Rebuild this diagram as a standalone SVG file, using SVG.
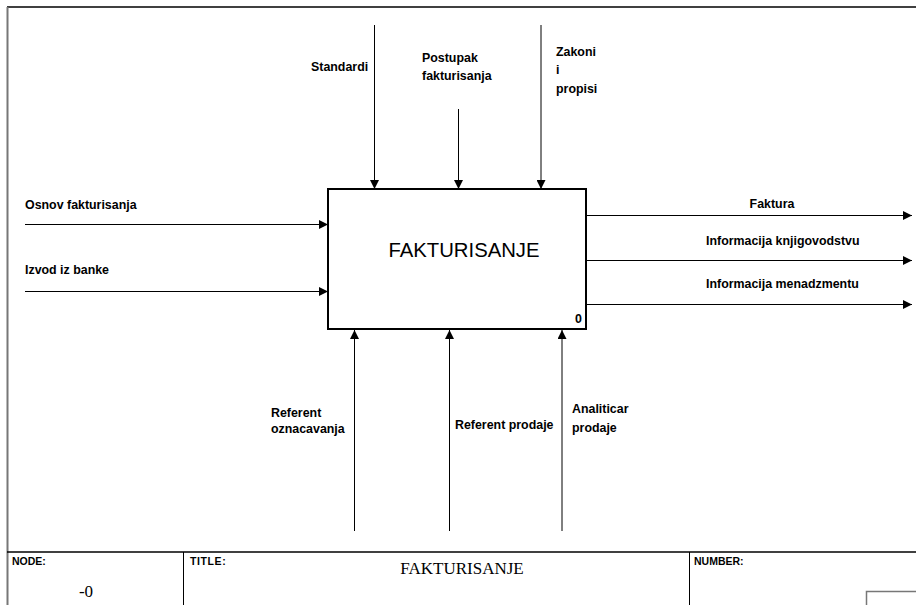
<svg xmlns="http://www.w3.org/2000/svg" width="916" height="605" viewBox="0 0 916 605">
  <style>
    .lbl { font-family: "Liberation Sans", Arial, sans-serif; font-size: 12.4px; font-weight: bold; fill: #000; }
    .hdr { font-family: "Liberation Sans", Arial, sans-serif; font-size: 10.5px; font-weight: bold; fill: #000; }
    .ttl { font-family: "Liberation Serif", "Times New Roman", serif; font-size: 17px; fill: #000; }
    .arrow { stroke: #000; stroke-width: 1; fill: none; marker-end: url(#head); }
    .frame { stroke: #000; stroke-width: 1.5; fill: none; }
  </style>
  <defs>
    <marker id="head" viewBox="0 0 10 10" refX="10" refY="5" markerWidth="9" markerHeight="9" markerUnits="userSpaceOnUse" orient="auto">
      <path d="M0,0 L10,5 L0,10 z" fill="#000"/>
    </marker>
  </defs>

  <rect width="916" height="605" fill="#fff"/>

  <!-- drawing frame -->
  <g id="frame">
    <line x1="7" y1="7" x2="916" y2="7" class="frame"/>
    <line x1="7.5" y1="7" x2="7.5" y2="605" stroke="#777" stroke-width="2"/>
  </g>

  <!-- activity box -->
  <g id="node-fakturisanje">
    <rect x="328" y="189" width="258" height="140" fill="#fff" stroke="#000" stroke-width="2"/>
    <text x="464" y="257" text-anchor="middle" font-family="Liberation Sans, Arial, sans-serif" font-size="21" textLength="151" lengthAdjust="spacingAndGlyphs" fill="#000">FAKTURISANJE</text>
    <text x="575" y="323" class="lbl">0</text>
  </g>

  <!-- connectors -->
  <g id="connectors">
    <!-- controls -->
    <line x1="374.5" y1="25" x2="374.5" y2="189" class="arrow"/>
    <line x1="458.5" y1="109" x2="458.5" y2="189" class="arrow" stroke="#444"/>
    <line x1="541" y1="25" x2="541" y2="189" class="arrow" stroke="#555"/>
    <!-- inputs -->
    <line x1="25" y1="224.5" x2="328" y2="224.5" class="arrow"/>
    <line x1="25" y1="291.5" x2="328" y2="291.5" class="arrow"/>
    <!-- outputs -->
    <line x1="586" y1="215.5" x2="912" y2="215.5" class="arrow"/>
    <line x1="586" y1="260.5" x2="912" y2="260.5" class="arrow" stroke="#444"/>
    <line x1="586" y1="304.5" x2="912" y2="304.5" class="arrow"/>
    <!-- mechanisms -->
    <line x1="354.5" y1="531" x2="354.5" y2="330" class="arrow"/>
    <line x1="449.5" y1="531" x2="449.5" y2="330" class="arrow"/>
    <line x1="562" y1="531" x2="562" y2="330" class="arrow" stroke="#555"/>
  </g>

  <!-- arrow labels -->
  <g id="labels">
    <text x="311" y="71" class="lbl">Standardi</text>
    <text x="422" y="62" class="lbl">Postupak</text>
    <text x="422" y="80" class="lbl">fakturisanja</text>
    <text x="556" y="56" class="lbl">Zakoni</text>
    <text x="556" y="74" class="lbl">i</text>
    <text x="556" y="93" class="lbl">propisi</text>

    <text x="25" y="209" class="lbl">Osnov fakturisanja</text>
    <text x="25" y="274" class="lbl">Izvod iz banke</text>

    <text x="772" y="208" class="lbl" text-anchor="middle">Faktura</text>
    <text x="706" y="245" class="lbl">Informacija knjigovodstvu</text>
    <text x="706" y="288" class="lbl">Informacija menadzmentu</text>

    <text x="271" y="417" class="lbl">Referent</text>
    <text x="271" y="433" class="lbl">oznacavanja</text>
    <text x="455" y="429" class="lbl">Referent prodaje</text>
    <text x="572" y="413" class="lbl">Analiticar</text>
    <text x="572" y="432" class="lbl">prodaje</text>
  </g>

  <!-- title block -->
  <g id="title-block">
    <line x1="7" y1="552" x2="916" y2="552" class="frame"/>
    <line x1="183.5" y1="552" x2="183.5" y2="605" stroke="#000" stroke-width="1"/>
    <line x1="689.5" y1="552" x2="689.5" y2="605" stroke="#000" stroke-width="1"/>
    <text x="12" y="565" class="hdr">NODE:</text>
    <text x="86" y="597" class="ttl" text-anchor="middle">-0</text>
    <text x="190" y="565" class="hdr" letter-spacing="0.6">TITLE:</text>
    <text x="462" y="574" class="ttl" text-anchor="middle">FAKTURISANJE</text>
    <text x="694" y="565" class="hdr">NUMBER:</text>
    <path d="M866.5,605 L866.5,591.5 L916,591.5" fill="none" stroke="#777" stroke-width="1.5"/>
  </g>
</svg>
